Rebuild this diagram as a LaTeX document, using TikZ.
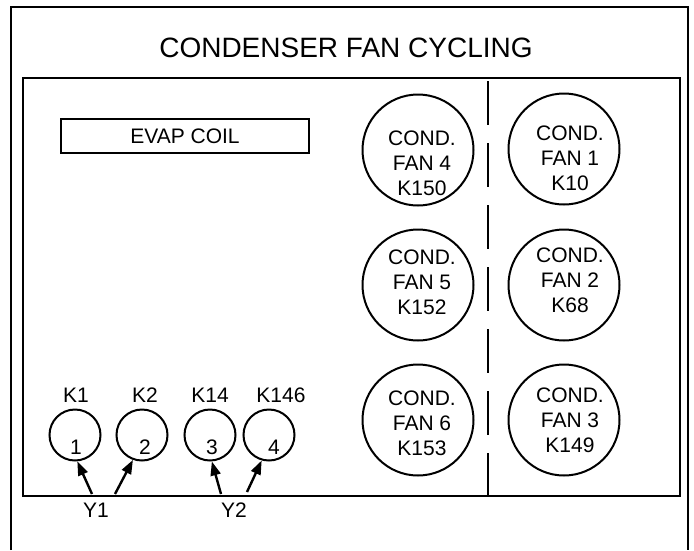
\documentclass[tikz,border=0pt]{standalone}
\usepackage{fontspec}
\setmainfont{Liberation Sans}
\usetikzlibrary{arrows.meta}
\begin{document}
\begin{tikzpicture}[x=1pt,y=-1pt,
  frame/.style={line width=2.6pt},
  panel/.style={line width=2pt},
  fan/.style={circle,draw,line width=2pt,minimum size=111pt,inner sep=0pt},
  fantext/.style={align=center,font=\fontsize{21}{25}\selectfont,inner sep=0pt},
  comp/.style={circle,draw,line width=2pt,minimum size=51pt,inner sep=0pt},
  lbl/.style={font=\fontsize{21}{25}\selectfont,inner sep=0pt},
  coil/.style={draw,line width=2pt,minimum width=248pt,minimum height=34pt,inner sep=0pt,font=\fontsize{21}{25}\selectfont},
  arr/.style={line width=2.4pt,-{Triangle[length=14pt,width=10pt]}},
  divider/.style={line width=2.4pt,dash pattern=on 44pt off 18pt}]
\useasboundingbox (0,0) rectangle (694,550);
\fill[white] (0,0) rectangle (694,550);
% outer frame (open at the bottom of the picture)
\draw[frame] (11,550) -- (11,7) -- (688,7) -- (688,550);
\node[font=\fontsize{28}{32}\selectfont] (title) at (346,48) {CONDENSER FAN CYCLING};
% inner panel
\draw[panel] (23,78) rectangle (680,496);
\draw[divider] (488,81) -- (488,498);
% evaporator coil
\node[coil] (evap) at (185,136) {EVAP COIL};
% condenser fans
\node[fan] (f4) at (418,150) {};
\node[fantext] (t4) at (422,163) {COND.\\FAN 4\\K150};
\node[fan] (f1) at (564,149) {};
\node[fantext] (t1) at (570,158) {COND.\\FAN 1\\K10};
\node[fan] (f5) at (418,285) {};
\node[fantext] (t5) at (422,282) {COND.\\FAN 5\\K152};
\node[fan] (f2) at (564,285) {};
\node[fantext] (t2) at (570,280) {COND.\\FAN 2\\K68};
\node[fan] (f6) at (418,420) {};
\node[fantext] (t6) at (422,423) {COND.\\FAN 6\\K153};
\node[fan] (f3) at (564,420) {};
\node[fantext] (t3) at (570,420) {COND.\\FAN 3\\K149};
% compressors
\node[comp] (c1) at (75,435) {};
\node[comp] (c2) at (142,435) {};
\node[comp] (c3) at (210,435) {};
\node[comp] (c4) at (269,435) {};
\node[lbl] (k1) at (76,395) {K1};
\node[lbl] (k2) at (145,395) {K2};
\node[lbl] (k14) at (210,395) {K14};
\node[lbl] (k146) at (281,395) {K146};
\node[lbl] (n1) at (76,447) {1};
\node[lbl] (n2) at (145,447) {2};
\node[lbl] (n3) at (212,447) {3};
\node[lbl] (n4) at (274,447) {4};
% unloader arrows
\coordinate (a1) at (92,494);
\coordinate (a2) at (115,494);
\coordinate (a3) at (221,494);
\coordinate (a4) at (247,492);
\draw[arr] (a1) -- (c1.275);
\draw[arr] (a2) -- (c2.250);
\draw[arr] (a3) -- (c3.274);
\draw[arr] (a4) -- (c4.254);
\node[lbl] (y1) at (96,510) {Y1};
\node[lbl] (y2) at (234,510) {Y2};
\end{tikzpicture}
\end{document}
